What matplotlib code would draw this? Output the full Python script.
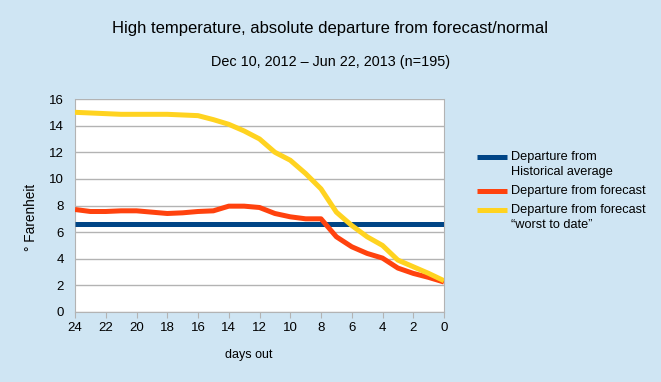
import matplotlib.pyplot as plt
from matplotlib.lines import Line2D

# days before the forecasted date
days = list(range(24, -1, -1))

historical = [6.6] * len(days)
forecast = [7.7, 7.55, 7.55, 7.6, 7.6, 7.5, 7.4, 7.45, 7.55, 7.6, 7.95, 7.95, 7.85,
            7.4, 7.15, 7.0, 7.0, 5.65, 4.9, 4.4, 4.05, 3.3, 2.9, 2.6, 2.25]
worst = [15.0, 14.95, 14.9, 14.85, 14.85, 14.85, 14.85, 14.8, 14.75, 14.45, 14.1, 13.6, 13.0,
         12.0, 11.4, 10.4, 9.25, 7.5, 6.5, 5.65, 5.0, 3.9, 3.4, 2.9, 2.35]

labels = ['Departure from\nHistorical average', 'Departure from forecast',
          'Departure from forecast\n\u201cworst to date\u201d']
colors = ['#004586', '#ff420e', '#ffd320']

plt.rcParams['font.family'] = ['Liberation Sans', 'DejaVu Sans']

W, H = 661, 382
fig = plt.figure(figsize=(W / 100, H / 100), dpi=100, facecolor='#cfe5f3')
ax = fig.add_axes([75 / W, 1 - 312 / H, 369 / W, 213 / H])
ax.set_facecolor('white')

for series, label, color in zip([historical, forecast, worst], labels, colors):
    ax.plot(days, series, color=color, lw=3.6, label=label, solid_capstyle='butt', zorder=3)

ax.set_xlim(24, 0)
ax.set_ylim(0, 16)
ax.set_xticks(range(24, -1, -2))
ax.set_yticks(range(0, 17, 2))
ax.grid(axis='y', color='#b3b3b3', lw=1)
ax.set_axisbelow(True)
for side in ['left', 'right', 'bottom']:
    ax.spines[side].set_color('#b3b3b3')
ax.spines['top'].set_visible(False)
ax.tick_params(colors='#b3b3b3', labelcolor='black', labelsize=9.5, length=4)
ax.tick_params(axis='y', length=0, pad=8)

ax.set_xlabel('days out', fontsize=9)
ax.xaxis.set_label_coords(0.472, -0.175)
ax.set_ylabel('\u00b0 Farenheit', fontsize=9.8)
ax.yaxis.set_label_coords(-0.1, 0.444)

fig.text(0.5, 1 - 28 / H, 'High temperature, absolute departure from forecast/normal',
         ha='center', va='center', fontsize=12)
fig.text(0.5, 1 - 62 / H, 'Dec 10, 2012 \u2013 Jun 22, 2013 (n=195)',
         ha='center', va='center', fontsize=10.4)

# legend: handle sits beside the first line of each label
rows = [157, 191, 210]
for label, color, y in zip(labels, colors, rows):
    fig.add_artist(Line2D([477 / W, 507 / W], [1 - y / H] * 2, color=color, lw=3.6,
                          solid_capstyle='butt'))
    for j, line in enumerate(label.split('\n')):
        fig.text(511 / W, 1 - (y + 15 * j) / H, line, ha='left', va='center', fontsize=9.2)

fig.savefig('out.png', dpi=100, facecolor=fig.get_facecolor())
